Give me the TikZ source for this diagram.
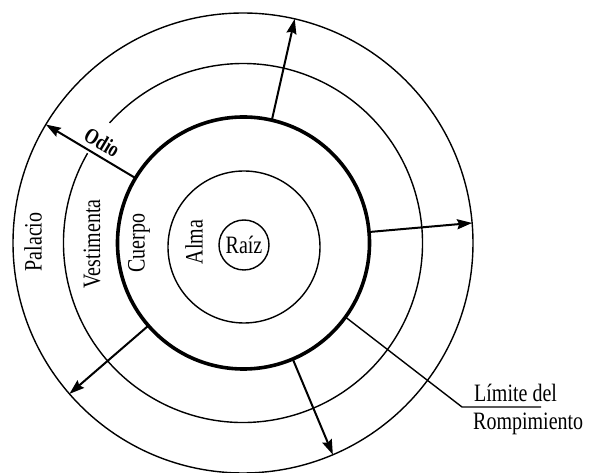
\documentclass[tikz,border=0pt]{standalone}
\usepackage{fontspec}
\setmainfont{Liberation Serif}[FakeStretch=0.8]
\usetikzlibrary{arrows.meta}
\begin{document}
\begin{tikzpicture}[x=1pt,y=1pt,
  ring/.style={circle,draw,line width=1.4pt,inner sep=0pt,outer sep=0pt},
  thickring/.style={circle,draw,line width=3.6pt,inner sep=0pt,outer sep=0pt},
  arr/.style={line width=2pt,-{Stealth[length=15pt,width=10pt,inset=2pt]}},
  lbl/.style={font=\fontsize{25}{29}\selectfont,inner sep=0pt},
  vlbl/.style={lbl,rotate=90}]
\useasboundingbox (-243,-230) rectangle (346,243);
% circles
\node[ring,minimum size=460pt] (palacio) at (0,0) {};
\draw[line width=1.4pt] (150:179.5) arc[start angle=150,end angle=498,radius=179.5];
\node[thickring,minimum size=252pt] (cuerpo) at (0.5,0) {};
\node[ring,minimum size=152pt] (alma) at (1,-4) {};
\node[ring,minimum size=50pt,font=\fontsize{25}{29}\selectfont] (raiz) at (1,-2) {Raíz};
% ring labels
\node[vlbl] (lpal) at (-210,1) {Palacio};
\node[vlbl] (lves) at (-151,-1) {Vestimenta};
\node[vlbl] (lcue) at (-104,0) {Cuerpo};
\node[vlbl] (lalm) at (-49,1) {Alma};
% arrows
\draw[arr] (cuerpo.77) -- (palacio.77);
\draw[arr] (cuerpo.5) -- (palacio.5);
\draw[arr] (cuerpo.149) -- (palacio.149)
  node[pos=0.45,sloped,above=5pt,font=\fontsize{22}{26}\selectfont\bfseries,inner sep=0pt] (odio) {Odio};
\draw[arr] (cuerpo.221) -- (palacio.221);
\draw[arr] (cuerpo.293) -- (palacio.293);
% leader
\coordinate (knee) at (219,-164);
\coordinate (kend) at (298,-164);
\draw[line width=1.4pt] (cuerpo.-36) -- (knee) -- (kend);
\node[lbl,anchor=base west] (lim) at (231,-159) {Límite del};
\node[lbl,anchor=base west] (rom) at (230,-187) {Rompimiento};
\end{tikzpicture}
\end{document}
